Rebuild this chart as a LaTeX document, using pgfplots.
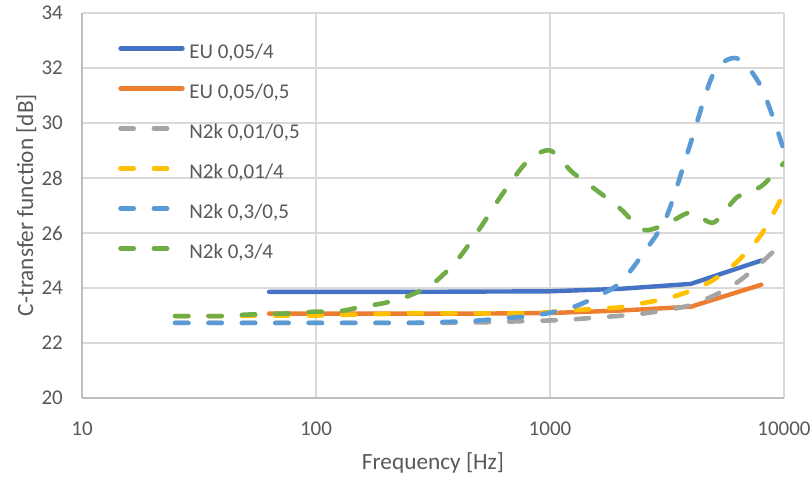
\documentclass[border=0pt]{standalone}
\usepackage{pgfplots}
\pgfplotsset{compat=1.18}
\usepackage{pgfplotstable}
\usepackage{fontspec}
\setmainfont{Carlito}
\definecolor{cEUa}{HTML}{4472C4}
\definecolor{cEUb}{HTML}{ED7D31}
\definecolor{cNa}{HTML}{A5A5A5}
\definecolor{cNb}{HTML}{FFC000}
\definecolor{cNc}{HTML}{5B9BD5}
\definecolor{cNd}{HTML}{70AD47}
\definecolor{gridc}{HTML}{D9D9D9}
\definecolor{axc}{HTML}{BFBFBF}
\definecolor{txt}{HTML}{595959}

\pgfplotstableread{
f v
63 23.86
125 23.86
250 23.86
500 23.87
1000 23.88
2000 23.97
4000 24.15
8000 25.0
}\euA
\pgfplotstableread{
f v
63 23.07
125 23.07
250 23.07
500 23.07
1000 23.09
2000 23.18
4000 23.32
8000 24.12
}\euB
\pgfplotstableread{
f v
25 22.73
31.5 22.73
40 22.73
50 22.73
63 22.73
80 22.73
100 22.73
125 22.73
160 22.73
200 22.73
250 22.73
315 22.73
400 22.74
500 22.75
630 22.77
800 22.80
1000 22.82
1250 22.86
1600 22.93
2000 22.99
2500 23.07
3150 23.20
4000 23.38
5000 23.72
6300 24.20
8000 24.92
10000 25.70
}\nA
\pgfplotstableread{
f v
25 22.98
31.5 22.98
40 22.98
50 22.99
63 23.00
80 23.00
100 23.00
125 23.02
160 23.04
200 23.06
250 23.08
315 23.08
400 23.08
500 23.08
630 23.08
800 23.09
1000 23.12
1250 23.19
1600 23.25
2000 23.30
2500 23.45
3150 23.62
4000 23.90
5000 24.30
6300 24.95
8000 25.95
10000 27.45
}\nB
\pgfplotstableread{
f v
25 22.73
31.5 22.73
40 22.73
50 22.73
63 22.73
80 22.73
100 22.73
125 22.73
160 22.73
200 22.73
250 22.73
315 22.75
400 22.78
500 22.82
630 22.90
800 22.97
1000 23.10
1250 23.30
1600 23.70
2000 24.20
2500 25.25
3150 26.60
4000 29.30
5000 31.80
6300 32.35
8000 31.30
10000 29.00
}\nC
\pgfplotstableread{
f v
25 22.98
31.5 22.98
40 22.98
50 23.03
63 23.06
80 23.08
100 23.14
125 23.15
160 23.33
200 23.47
250 23.72
315 24.15
400 25.00
500 26.15
630 27.45
800 28.60
1000 29.00
1250 28.20
1600 27.52
2000 26.88
2500 26.12
3150 26.33
4000 26.75
5000 26.38
6300 27.30
8000 27.70
10000 28.55
}\nD

\begin{document}
\begin{tikzpicture}
\path[use as bounding box] (-82bp,-81bp) rectangle (729bp,398bp);
\begin{axis}[
  scale only axis,
  width=702bp, height=385bp,
  xmode=log, log basis x=10,
  xmin=10, xmax=10000, ymin=20, ymax=34,
  xtick={10,100,1000,10000},
  xticklabels={10,100,1000,10000},
  ytick={20,22,24,26,28,30,32,34},
  xminorticks=false,
  major tick length=0pt,
  xmajorgrids, ymajorgrids,
  grid style={gridc, line width=1.6bp},
  axis lines*=left,
  axis line style={-, axc, line width=1.8bp},
  /pgf/number format/assume math mode=true,
  ticklabel style={font=\fontsize{21bp}{25bp}\selectfont, text=txt, inner sep=0pt},
  yticklabel style={anchor=east, xshift=-19bp},
  xticklabel style={anchor=north, yshift=-24bp},
  xlabel={Frequency [Hz]},
  ylabel={C-transfer function [dB]},
  label style={font=\fontsize{23.3bp}{28bp}\selectfont, text=txt},
  xlabel style={at={(axis description cs:0.5,-0.187)}, anchor=base},
  ylabel style={at={(axis description cs:-0.0698,0.501)}, anchor=base, rotate=0},
  legend style={
    at={(axis description cs:0.0513,0.9195)}, anchor=north west,
    draw=none, fill=none, inner sep=0pt,
    font=\fontsize{21bp}{25bp}\selectfont, text=txt,
    row sep=22bp, column sep=4.5bp,
    nodes={inner sep=0pt, text height=14bp, text depth=4bp},
  },
  legend cell align=left,
  legend image code/.code={\draw[#1] (0bp,4.7bp) -- (62bp,4.7bp);},
  every axis plot/.append style={line cap=round, line join=round},
]
\addplot[cEUa, line width=4.4bp] table[x=f,y=v] {\euA};
\addlegendentry{EU 0,05/4}
\addplot[cEUb, line width=4.4bp] table[x=f,y=v] {\euB};
\addlegendentry{EU 0,05/0,5}
\addplot[cNa, line width=4.6bp, dash pattern=on 13.2bp off 20.2bp, smooth, tension=0.5] table[x=f,y=v] {\nA};
\addlegendentry{N2k 0,01/0,5}
\addplot[cNb, line width=4.6bp, dash pattern=on 13.2bp off 20.2bp, smooth, tension=0.5] table[x=f,y=v] {\nB};
\addlegendentry{N2k 0,01/4}
\addplot[cNc, line width=4.6bp, dash pattern=on 13.2bp off 20.2bp, smooth, tension=0.5] table[x=f,y=v] {\nC};
\addlegendentry{N2k 0,3/0,5}
\addplot[cNd, line width=4.6bp, dash pattern=on 13.2bp off 20.2bp, smooth, tension=0.5] table[x=f,y=v] {\nD};
\addlegendentry{N2k 0,3/4}
\end{axis}
\end{tikzpicture}
\end{document}
